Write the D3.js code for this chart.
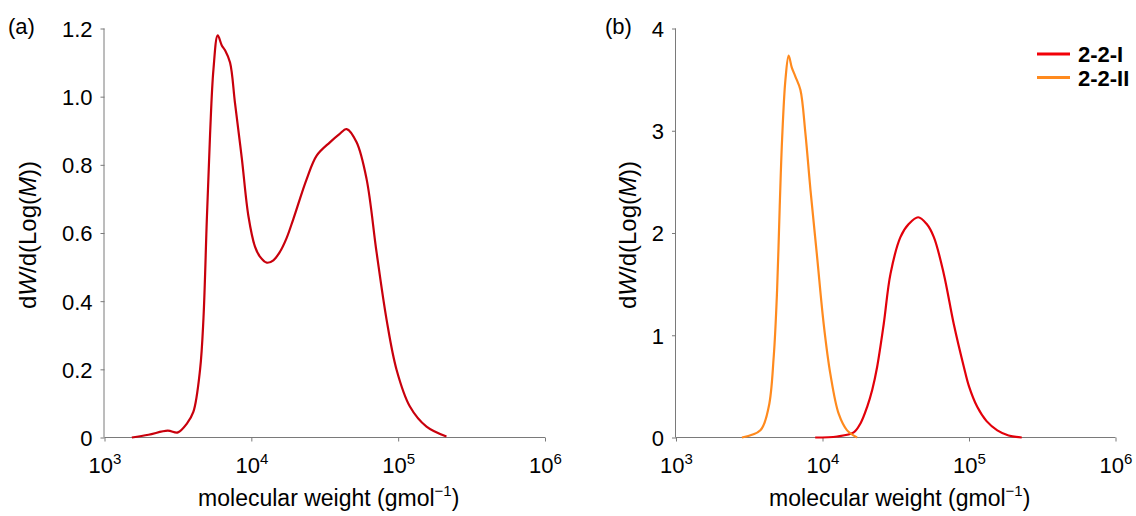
<!DOCTYPE html>
<html lang="en">
<head>
<meta charset="utf-8">
<title>Molecular weight distributions</title>
<script src="https://d3js.org/d3.v7.min.js"></script>
<style>
  body { margin: 0; background: #fff; }
  svg text { font-family: "Liberation Sans", Arial, Helvetica, sans-serif; fill: #000; }
</style>
</head>
<body>
<script>
// panel (a): molecular weight (g/mol) and dW/dLog(M)
const mwA = [1535, 1995, 2692, 3162, 3631, 4027, 4477, 4721, 4977, 5236, 5521, 5902, 6295, 6622,
  7161, 7745, 8610, 9550, 10590, 11480, 12740, 14130, 15670, 17380, 19320, 23820, 27860, 34280, 39810,
  44570, 52120, 60950, 71290, 83370, 97500, 120200, 156000, 213300]
const wA = [0, 0.008, 0.02, 0.015, 0.04, 0.075, 0.20, 0.35, 0.64, 0.89, 1.08, 1.18, 1.15, 1.136,
  1.10, 0.98, 0.82, 0.65, 0.56, 0.53, 0.513, 0.52, 0.545, 0.585, 0.641, 0.758, 0.827, 0.866, 0.89,
  0.905, 0.866, 0.758, 0.543, 0.346, 0.199, 0.091, 0.032, 0.003]

// panel (b): 2-2-I and 2-2-II
const mwB1 = [8913, 12590, 16330, 18200, 20180, 21880, 23600, 26180, 29110, 34040, 38900, 44980,
  51290, 57540, 67300, 78700, 92260, 100000, 113800, 131800, 156000, 186200, 229100]
const wB1 = [0, 0.01, 0.05, 0.14, 0.30, 0.47, 0.69, 1.11, 1.60, 1.96, 2.09, 2.154,
  2.09, 1.96, 1.60, 1.11, 0.69, 0.50, 0.30, 0.16, 0.07, 0.02, 0]
const mwB2 = [2818, 3767, 4295, 4645, 4898, 5105, 5297, 5585, 5875, 6166, 6531, 7063, 7638, 8279,
  9183, 10190, 11320, 12910, 14720, 17220]
const wB2 = [0, 0.07, 0.30, 0.79, 1.44, 2.26, 2.91, 3.50, 3.735, 3.62, 3.53, 3.40, 2.98, 2.42,
  1.77, 1.11, 0.62, 0.23, 0.07, 0]

const xTicks = [1e3, 1e4, 1e5, 1e6]
const yTicksA = [0, 0.2, 0.4, 0.6, 0.8, 1.0, 1.2]
const yTicksB = [0, 1, 2, 3, 4]
const seriesNames = ['2-2-I', '2-2-II']

const colA = '#c8000c'
const colRed = '#e2000a'
const colOrange = '#ff8a1e'

const svg = d3.select('body').append('svg')
    .attr('width', 1136)
    .attr('height', 516)

function panel(opt) {
    const x = d3.scaleLog().domain([1e3, 1e6]).range([opt.left, opt.right])
    const y = d3.scaleLinear().domain([0, opt.ymax]).range([437.5, 28.5])
    const g = svg.append('g')

    // y axis
    const yAx = g.append('g')
        .attr('transform', `translate(${opt.left},0)`)
        .call(d3.axisLeft(y).tickValues(opt.yticks).tickSize(4).tickPadding(8)
            .tickFormat(opt.yfmt))
    yAx.select('.domain').attr('stroke', '#7a7a7a').attr('d', `M-0.5,${y(opt.ymax)}V${y(0)}`)
    yAx.selectAll('.tick line').attr('stroke', '#7a7a7a')
    yAx.selectAll('.tick text').attr('font-size', 22).attr('dy', '0.36em')

    // x axis
    const xAx = g.append('g')
        .attr('transform', 'translate(0,437.5)')
        .call(d3.axisBottom(x).tickValues(xTicks).tickSize(4).tickFormat(''))
    xAx.select('.domain').attr('stroke', '#7a7a7a').attr('d', `M${opt.left},0H${opt.right}`)
    xAx.selectAll('.tick line').attr('stroke', '#7a7a7a')
    xAx.selectAll('.tick').append('text')
        .attr('y', 35)
        .attr('text-anchor', 'middle')
        .attr('font-size', 22)
        .each(function (d) {
            const t = d3.select(this)
            t.append('tspan').text('10')
            t.append('tspan').attr('font-size', 15).attr('dy', -9).text(Math.round(Math.log10(d)))
        })

    // axis titles
    const xt = g.append('text')
        .attr('x', (opt.left + opt.right) / 2 + 4)
        .attr('y', 506)
        .attr('text-anchor', 'middle')
        .attr('font-size', 23)
    xt.append('tspan').text('molecular weight (gmol')
    xt.append('tspan').attr('font-size', 15).attr('dy', -10).text('\u22121')
    xt.append('tspan').attr('dy', 10).text(')')

    const yt = g.append('text')
        .attr('transform', `translate(${opt.ylabX},235) rotate(-90)`)
        .attr('text-anchor', 'middle')
        .attr('font-size', 24)
    yt.append('tspan').text('d')
    yt.append('tspan').attr('font-style', 'italic').text('W')
    yt.append('tspan').text('/d(Log(')
    yt.append('tspan').attr('font-style', 'italic').text('M')
    yt.append('tspan').text('))')

    g.append('text')
        .attr('x', opt.tagX)
        .attr('y', 34)
        .attr('font-size', 22)
        .text(opt.tag)

    const line = d3.line()
        .x(d => x(d[0]))
        .y(d => y(d[1]))
        .curve(d3.curveCatmullRom.alpha(0.5))

    opt.series.forEach(function (s) {
        g.append('path')
            .datum(d3.zip(s.mw, s.w))
            .attr('fill', 'none')
            .attr('stroke', s.color)
            .attr('stroke-width', 2.2)
            .attr('stroke-linejoin', 'round')
            .attr('d', line)
    })
    return g
}

panel({
    left: 104.5, right: 545, ymax: 1.2, yticks: yTicksA,
    yfmt: d => d === 0 ? '0' : d3.format('.1f')(d),
    ylabX: 36, tag: '(a)', tagX: 8,
    series: [{ mw: mwA, w: wA, color: colA }]
})

const gb = panel({
    left: 676, right: 1115.5, ymax: 4, yticks: yTicksB, yfmt: d3.format('d'),
    ylabX: 636, tag: '(b)', tagX: 605,
    series: [
        { mw: mwB1, w: wB1, color: colRed },
        { mw: mwB2, w: wB2, color: colOrange }
    ]
})

// legend
const legend = gb.append('g')
const legCols = ['#f20008', '#ff8a1e']
seriesNames.forEach(function (name, i) {
    const yy = 54 + i * 23.5
    legend.append('line')
        .attr('x1', 1037).attr('x2', 1070)
        .attr('y1', yy).attr('y2', yy)
        .attr('stroke', legCols[i])
        .attr('stroke-width', 3)
    legend.append('text')
        .attr('x', 1078).attr('y', yy + 8)
        .attr('font-size', 22)
        .attr('font-weight', 'bold')
        .text(name)
})
</script>
</body>
</html>
